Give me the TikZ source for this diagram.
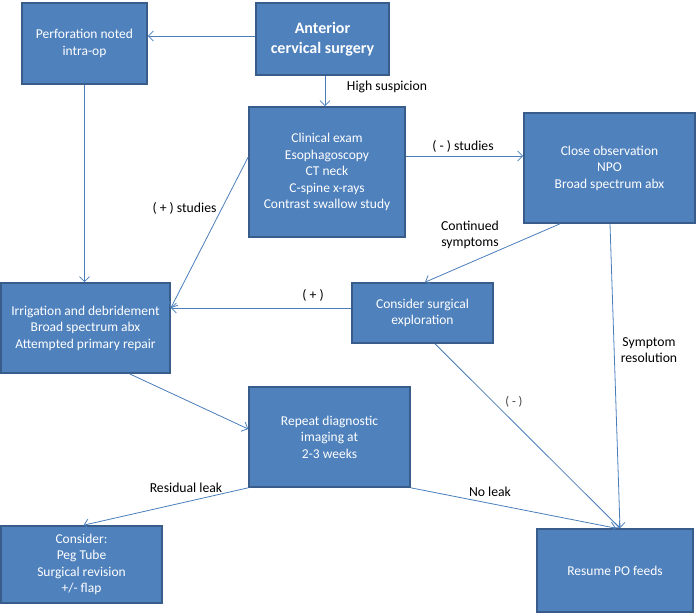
\documentclass[tikz,border=0pt]{standalone}
\usepackage{fontspec}
\setmainfont{Carlito}
\usetikzlibrary{arrows.meta,calc}
\definecolor{boxfill}{HTML}{4F81BD}
\definecolor{boxline}{HTML}{385D8A}
\definecolor{connline}{HTML}{4A7EBB}
\tikzset{
  flowbox/.style={draw=boxline, line width=1.6pt, fill=boxfill, text=white,
    align=center, inner sep=0pt,
    font=\fontsize{13.5}{16.5}\selectfont},
  conn/.style={draw=connline, line width=0.8pt,
    -{Straight Barb[length=5pt,width=10pt,line width=0.8pt]}},
  lbl/.style={text=black, inner sep=0pt, font=\fontsize{13.7}{16.5}\selectfont, align=center}
}
\begin{document}
\begin{tikzpicture}[x=1pt,y=-1pt]
\useasboundingbox (0,0) rectangle (696,614);
% boxes (centre, size in px)
\node[flowbox, minimum width=125pt, minimum height=81pt] (perf) at (84.5,43.5) {Perforation noted\\intra-op};
\node[flowbox, minimum width=133pt, minimum height=72pt, font=\bfseries\fontsize{16}{19.5}\selectfont] (ant) at (322.5,39) {Anterior\\cervical surgery};
\node[flowbox, minimum width=156pt, minimum height=130pt] (clin) at (327,172) {Clinical exam\\Esophagoscopy\\CT neck\\C-spine x-rays\\Contrast swallow study};
\node[flowbox, minimum width=171pt, minimum height=110pt] (obs) at (609.5,168) {Close observation\\NPO\\Broad spectrum abx};
\node[flowbox, minimum width=169pt, minimum height=90pt] (irr) at (85.5,328) {Irrigation and debridement\\Broad spectrum abx\\Attempted primary repair};
\node[flowbox, minimum width=141pt, minimum height=60pt] (surg) at (422.5,313) {Consider surgical\\exploration};
\node[flowbox, minimum width=161pt, minimum height=100pt] (rep) at (329.5,437) {Repeat diagnostic\\imaging at\\2-3 weeks};
\node[flowbox, minimum width=161pt, minimum height=77pt] (cons) at (81.5,564.5) {Consider:\\Peg Tube\\Surgical revision\\+/- flap};
\node[flowbox, minimum width=156pt, minimum height=83pt] (res) at (615,570.5) {Resume PO feeds};
% connectors
\draw[conn] ([yshift=3]ant.west) -- ([yshift=3]ant.west -| perf.east);
\draw[conn] ([xshift=2.5]ant.south) -- ([xshift=2.5]ant.south |- clin.north);
\draw[conn] ([yshift=16]clin.east) -- ([yshift=16]clin.east -| obs.west);
\draw[conn] ([yshift=15]clin.west) -- ([yshift=20]irr.east);
\draw[conn] (perf.south) -- (perf.south |- irr.north);
\draw[conn] ([xshift=-49.5]obs.south) -- ([xshift=2.5]surg.north);
\draw[conn] ([yshift=5]surg.west) -- ([yshift=5]surg.west -| irr.east);
\draw[conn] ([xshift=0.5]obs.south) -- ([xshift=5]res.north);
\draw[conn] ([xshift=12.5]surg.south) -- ([xshift=5]res.north);
\draw[conn] ([xshift=44]irr.south) -- ([yshift=8]rep.west);
\draw[conn] (rep.south west) -- ([xshift=2]cons.north);
\draw[conn] (rep.south east) -- ([xshift=1]res.north);
% labels
\node[lbl] (lhigh) at (387,87) {High suspicion};
\node[lbl] (lneg) at (463,146) {( - ) studies};
\node[lbl] (lpos) at (184.5,208) {( + ) studies};
\node[lbl] (lcont) at (470,235) {Continued\\symptoms};
\node[lbl] (lplus) at (313,295) {( + )};
\node[lbl] (lres) at (649,350) {Symptom\\resolution};
\node[lbl, text=black!75, font=\fontsize{12.5}{15}\selectfont] (lminus) at (514,402) {( - )};
\node[lbl] (lresid) at (186,488) {Residual leak};
\node[lbl] (lnoleak) at (490,492) {No leak};
\end{tikzpicture}
\end{document}
